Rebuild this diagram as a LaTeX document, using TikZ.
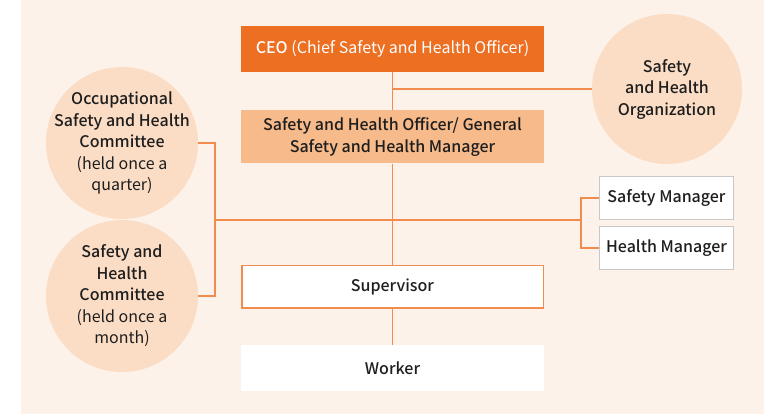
\documentclass[tikz,border=0pt]{standalone}
\usepackage{fontspec}
\setmainfont{Noto Sans CJK KR}[BoldFont={Noto Sans CJK KR Medium}]
\usepackage{tikz}
\usetikzlibrary{positioning, calc}
\definecolor{bgpeach}{RGB}{253,242,233}
\definecolor{ceoorange}{RGB}{236,111,34}
\definecolor{shoorange}{RGB}{246,186,139}
\definecolor{circpeach}{RGB}{251,221,197}
\definecolor{linkorange}{RGB}{241,140,78}
\definecolor{mgrgray}{RGB}{200,200,200}
\definecolor{textdark}{RGB}{30,30,30}
\tikzset{
  orgbox/.style={rectangle, minimum width=303pt, inner sep=2pt,
    align=center, font=\fontsize{16}{21.5}\selectfont, text=textdark},
  ceobox/.style={orgbox, fill=ceoorange, minimum height=46pt, text=white},
  shobox/.style={orgbox, fill=shoorange, minimum height=53pt},
  supbox/.style={orgbox, fill=white, draw=linkorange, line width=1.5pt,
    minimum width=301.5pt, minimum height=42.5pt},
  wrkbox/.style={orgbox, fill=white, minimum height=46pt},
  mgrbox/.style={rectangle, fill=white, draw=mgrgray, line width=1.2pt,
    minimum width=134pt, minimum height=43pt, inner sep=2pt,
    font=\fontsize{16}{21.5}\selectfont, text=textdark},
  bubble/.style={circle, fill=circpeach, inner sep=-40pt, align=center,
    font=\fontsize{16}{21.5}\selectfont, text=textdark},
  link/.style={line width=1.5pt, color=linkorange}
}

\begin{document}
\begin{tikzpicture}[x=1pt, y=-1pt]
  \useasboundingbox (0,0) rectangle (764,414);
  \fill[bgpeach] (21,0) rectangle (764,414);
  % main chain
  \node[ceobox] (ceo) at (392.5,49) {\textbf{CEO} (Chief Safety and Health Officer)};
  \node[shobox] (sho) at (392.5,137) {\textbf{Safety and Health Officer/ General}\\\textbf{Safety and Health Manager}};
  \node[supbox] (sup) at (392.5,287) {\textbf{Supervisor}};
  \node[wrkbox] (wrk) at (392.5,368) {\textbf{Worker}};
  % side bodies
  \node[bubble, minimum size=150pt] (org) at (667,89) {\textbf{Safety}\\\textbf{and Health}\\\textbf{Organization}};
  \node[bubble, minimum size=152pt] (oshc) at (122,143) {\textbf{Occupational}\\\textbf{Safety and Health}\\\textbf{Committee}\\(held once a\\quarter)};
  \node[bubble, minimum size=152pt] (shc) at (122,296) {\textbf{Safety and}\\\textbf{Health}\\\textbf{Committee}\\(held once a\\month)};
  \node[mgrbox] (safm) at (666.5,198) {\textbf{Safety Manager}};
  \node[mgrbox] (hlthm) at (666.5,248) {\textbf{Health Manager}};
  \coordinate (lj) at (215,220);
  \coordinate (rj) at (581,220);
  % connectors
  \draw[link] (ceo) -- (sho);
  \draw[link] (sho) -- (sup);
  \draw[link] (sup) -- (wrk);
  \draw[link] (org.west) -- (org.west -| ceo.south);
  \draw[link] (lj) -- (rj);
  \draw[link] (oshc.east) -| (lj) |- (shc.east);
  \draw[link] (safm.west) -| (rj) |- (hlthm.west);
\end{tikzpicture}
\end{document}
